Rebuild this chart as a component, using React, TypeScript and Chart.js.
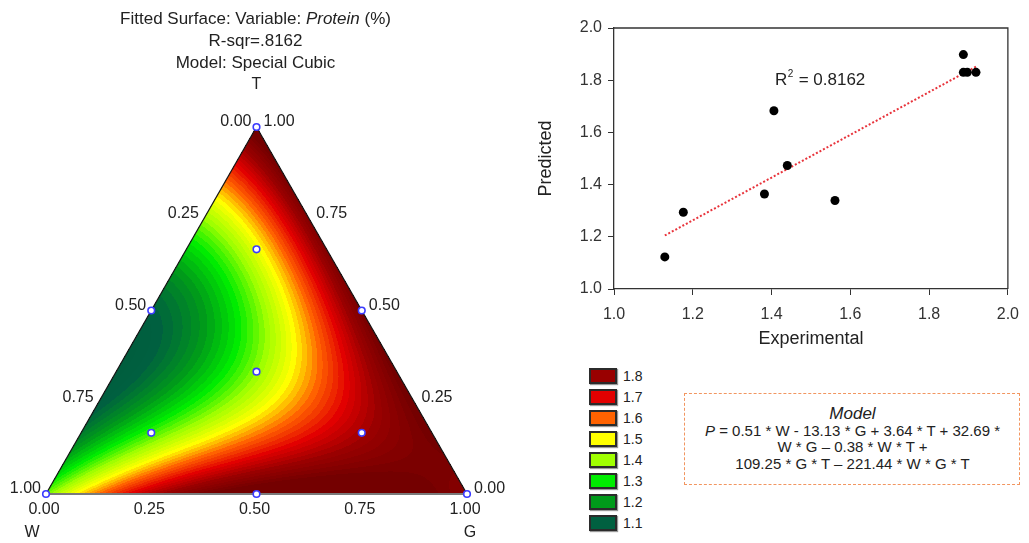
import React, { useEffect, useRef } from "react";
import { Chart, registerables } from "chart.js";

Chart.register(...registerables);

const FONT = "'Liberation Sans', Arial, Helvetica, sans-serif";
const SQ3H = Math.sqrt(3) / 2;

// ---------- Right plot: Experimental vs Predicted ----------
const experimental = [1.129, 1.176, 1.382, 1.406, 1.44, 1.561, 1.887, 1.887, 1.897, 1.919];
const predicted = [1.123, 1.294, 1.364, 1.683, 1.473, 1.339, 1.898, 1.83, 1.83, 1.83];
const trendX = [1.129, 1.919];
const trendY = [1.205, 1.852];
const xTickValues = [1.0, 1.2, 1.4, 1.6, 1.8, 2.0];
const yTickValues = [1.0, 1.2, 1.4, 1.6, 1.8, 2.0];
const r2Value = "0.8162";
const r2LabelAt = [1.409, 1.8];

// ---------- Left plot: ternary fitted surface ----------
const titleLine1 = ["Fitted Surface: Variable: ", "Protein", " (%)"];
const titleLine2 = "R-sqr=.8162";
const titleLine3 = "Model: Special Cubic";
const vertexNames = ["W", "G", "T"];
const ternaryTicks = [0, 0.25, 0.5, 0.75, 1];

// design points (W, G, T)
const designW = [1, 0, 0, 0.5, 0.5, 0, 1 / 3, 2 / 3, 1 / 6, 1 / 6];
const designG = [0, 1, 0, 0.5, 0, 0.5, 1 / 3, 1 / 6, 2 / 3, 1 / 6];
const designT = [0, 0, 1, 0, 0.5, 0.5, 1 / 3, 1 / 6, 1 / 6, 2 / 3];

// surface values (W, G, T -> Protein)
const surfW = [1, 0, 0, 0.95, 0.9, 0.8, 0.65, 0.5, 0.25,
  0.9, 0.834, 0.75, 0.6, 0.5, 0.45, 0.4, 0.3, 0.23, 0.2, 0.15, 0.1, 0.05,
  0, 0, 0,
  0.741, 0.665, 0.568, 0.516, 0.416, 0.354, 0.273, 0.166, 0.028,
  0.585, 0.49, 0.412, 0.331, 0.27, 0.246, 0.205, 0.127, 0.032,
  0.489, 0.408, 0.329, 0.289, 0.242, 0.204, 0.163, 0.123, 0.068,
  0.407, 0.329, 0.248, 0.2, 0.158, 0.122, 0.082, 0.027,
  0.342, 0.247,
  0.282, 0.235, 0.187, 0.164, 0.133, 0.102, 0.062, 0.021,
  0.17, 0.139, 0.098, 0.067, 0.037,
  0.845, 0.805, 0.767, 0.726, 0.686, 0.648, 0.608, 0.529, 0.448, 0.346, 0.204,
  0.924, 0.853, 0.782, 0.639, 0.48,
  0.1, 0.3, 0.1, 0.02];
const surfG = [0, 1, 0, 0.05, 0.1, 0.2, 0.35, 0.5, 0.75,
  0, 0, 0, 0, 0, 0, 0, 0, 0, 0, 0, 0, 0,
  0.75, 0.5, 0.25,
  0.093, 0.169, 0.266, 0.318, 0.418, 0.48, 0.561, 0.668, 0.806,
  0.08, 0.175, 0.253, 0.334, 0.395, 0.419, 0.46, 0.538, 0.633,
  0.092, 0.173, 0.251, 0.291, 0.339, 0.377, 0.417, 0.458, 0.512,
  0.091, 0.17, 0.251, 0.298, 0.341, 0.376, 0.417, 0.471,
  0.107, 0.202,
  0.047, 0.095, 0.142, 0.166, 0.197, 0.228, 0.268, 0.309,
  0.029, 0.06, 0.101, 0.132, 0.162,
  0.054, 0.095, 0.133, 0.173, 0.213, 0.251, 0.292, 0.37, 0.451, 0.553, 0.695,
  0.038, 0.109, 0.18, 0.323, 0.482,
  0.8, 0.6, 0.5, 0.18];
const surfT = [0, 0, 1, 0, 0, 0, 0, 0, 0,
  0.1, 0.166, 0.25, 0.4, 0.5, 0.55, 0.6, 0.7, 0.77, 0.8, 0.85, 0.9, 0.95,
  0.25, 0.5, 0.75,
  0.166, 0.166, 0.166, 0.166, 0.166, 0.166, 0.166, 0.166, 0.166,
  0.335, 0.335, 0.335, 0.335, 0.335, 0.335, 0.335, 0.335, 0.335,
  0.42, 0.42, 0.42, 0.42, 0.42, 0.42, 0.42, 0.42, 0.42,
  0.502, 0.501, 0.501, 0.502, 0.501, 0.502, 0.501, 0.502,
  0.551, 0.551,
  0.671, 0.67, 0.671, 0.67, 0.67, 0.67, 0.67, 0.67,
  0.801, 0.801, 0.801, 0.801, 0.801,
  0.101, 0.1, 0.1, 0.101, 0.101, 0.101, 0.1, 0.101, 0.101, 0.101, 0.101,
  0.038, 0.038, 0.038, 0.038, 0.038,
  0.1, 0.1, 0.4, 0.8];
const surfP = [1.35, 1.87, 1.85, 1.42, 1.5, 1.68, 1.78, 1.84, 1.9,
  1.24, 1.2, 1.12, 1.07, 1.09, 1.14, 1.2, 1.3, 1.42, 1.48, 1.6, 1.72, 1.8,
  1.86, 1.84, 1.84,
  1.2, 1.27, 1.42, 1.52, 1.6, 1.7, 1.75, 1.8, 1.86,
  1.12, 1.18, 1.25, 1.32, 1.42, 1.5, 1.6, 1.72, 1.8,
  1.1, 1.18, 1.28, 1.3, 1.4, 1.5, 1.6, 1.7, 1.78,
  1.15, 1.22, 1.3, 1.4, 1.5, 1.6, 1.7, 1.8,
  1.22, 1.32,
  1.33, 1.4, 1.45, 1.47, 1.58, 1.65, 1.72, 1.8,
  1.6, 1.65, 1.7, 1.75, 1.8,
  1.25, 1.3, 1.4, 1.5, 1.58, 1.62, 1.66, 1.7, 1.73, 1.8, 1.86,
  1.4, 1.55, 1.66, 1.78, 1.84,
  1.88, 1.84, 1.82, 1.82];

// legend
const legendLevels = [1.8, 1.7, 1.6, 1.5, 1.4, 1.3, 1.2, 1.1];
const legendColors = ["#990000", "#e20000", "#ff6200", "#ffff00", "#a0ff00", "#00ec00", "#009a1a", "#006040"];
const paletteStops = [1.0, 1.1, 1.2, 1.3, 1.4, 1.5, 1.6, 1.7, 1.8, 1.9];
const paletteColors = ["#005a3c", "#006040", "#009a1a", "#00ec00", "#a0ff00", "#ffff00", "#ff6200", "#e20000", "#990000", "#740000"];

// model text
const modelTitle = "Model";
const modelLines = ["= 0.51 * W - 13.13 * G + 3.64 * T + 32.69 *", "W * G \u2013 0.38 * W * T +", "109.25 * G * T \u2013 221.44 * W * G * T"];

// ---------- helpers ----------
function features(w: number, g: number, t: number) {
  return [w, g, t, w * g, w * t, g * t, w * g * (w - g), w * t * (w - t), g * t * (g - t), w * g * t];
}

function fitSurface(): number[] {
  const n = 10;
  const A: number[][] = Array.from({ length: n }, () => new Array(n + 1).fill(0));
  for (let k = 0; k < surfP.length; k++) {
    const f = features(surfW[k], surfG[k], surfT[k]);
    for (let i = 0; i < n; i++) {
      for (let j = 0; j < n; j++) A[i][j] += f[i] * f[j];
      A[i][n] += f[i] * surfP[k];
    }
  }
  for (let i = 0; i < n; i++) A[i][i] += 1e-9;
  for (let c = 0; c < n; c++) {
    let piv = c;
    for (let r = c + 1; r < n; r++) if (Math.abs(A[r][c]) > Math.abs(A[piv][c])) piv = r;
    const tmp = A[c]; A[c] = A[piv]; A[piv] = tmp;
    for (let r = 0; r < n; r++) {
      if (r === c) continue;
      const f = A[r][c] / A[c][c];
      for (let k = c; k <= n; k++) A[r][k] -= f * A[c][k];
    }
  }
  return A.map((row, i) => row[n] / row[i]);
}

function hexToRgb(h: string) {
  const v = parseInt(h.slice(1), 16);
  return [(v >> 16) & 255, (v >> 8) & 255, v & 255];
}
const paletteRgb = paletteColors.map(hexToRgb);

function colorFor(v: number) {
  let q = Math.round(v / 0.02) * 0.02;
  q = Math.max(paletteStops[0], Math.min(paletteStops[paletteStops.length - 1], q));
  let i = 0;
  while (i < paletteStops.length - 2 && q > paletteStops[i + 1]) i++;
  const f = (q - paletteStops[i]) / (paletteStops[i + 1] - paletteStops[i]);
  const a = paletteRgb[i], b = paletteRgb[i + 1];
  return [a[0] + (b[0] - a[0]) * f, a[1] + (b[1] - a[1]) * f, a[2] + (b[2] - a[2]) * f];
}

const toXY = (g: number, t: number) => ({ x: g + t / 2, y: t * SQ3H });

// ---------- ternary plugin ----------
function makeTernaryPlugin(coef: number[]) {
  const pix = (chart: any, w: number, g: number, t: number) => {
    const p = toXY(g, t);
    return { x: chart.scales.x.getPixelForValue(p.x), y: chart.scales.y.getPixelForValue(p.y) };
  };
  return {
    id: "ternary",
    beforeDatasetsDraw(chart: any) {
      const { ctx, chartArea } = chart;
      const xs = chart.scales.x, ys = chart.scales.y;
      const x0 = Math.floor(chartArea.left) - 1, y0 = Math.floor(chartArea.top) - 1;
      const W = Math.ceil(chartArea.right) - x0 + 2, H = Math.ceil(chartArea.bottom) - y0 + 2;
      const off = document.createElement("canvas");
      off.width = W; off.height = H;
      const octx = off.getContext("2d")!;
      const img = octx.createImageData(W, H);
      const eps = 0.001;
      for (let py = 0; py < H; py++) {
        const Y = ys.getValueForPixel(y0 + py + 0.5);
        const t = Y / SQ3H;
        for (let px = 0; px < W; px++) {
          const X = xs.getValueForPixel(x0 + px + 0.5);
          const g = X - t / 2;
          const w = 1 - g - t;
          if (w < -eps || g < -eps || t < -eps) continue;
          const f = features(Math.max(w, 0), Math.max(g, 0), Math.max(t, 0));
          let v = 0;
          for (let k = 0; k < 10; k++) v += coef[k] * f[k];
          const c = colorFor(v);
          const idx = (py * W + px) * 4;
          img.data[idx] = c[0]; img.data[idx + 1] = c[1]; img.data[idx + 2] = c[2]; img.data[idx + 3] = 255;
        }
      }
      octx.putImageData(img, 0, 0);
      ctx.save();
      ctx.drawImage(off, x0, y0);
      const pw = pix(chart, 1, 0, 0), pg = pix(chart, 0, 1, 0), pt = pix(chart, 0, 0, 1);
      ctx.strokeStyle = "#1a1a1a";
      ctx.lineWidth = 1.3;
      ctx.beginPath();
      ctx.moveTo(pw.x, pw.y); ctx.lineTo(pt.x, pt.y); ctx.lineTo(pg.x, pg.y);
      ctx.stroke();
      ctx.strokeStyle = "#7a7a7a";
      ctx.lineWidth = 2;
      ctx.beginPath();
      ctx.moveTo(pw.x, pw.y); ctx.lineTo(pg.x, pg.y);
      ctx.stroke();
      ctx.restore();
    },
    afterDraw(chart: any) {
      const { ctx } = chart;
      ctx.save();
      ctx.fillStyle = "#222";
      ctx.textBaseline = "middle";
      ctx.font = `16px ${FONT}`;
      for (const v of ternaryTicks) {
        const lab = v.toFixed(2);
        const b = pix(chart, 1 - v, v, 0);
        ctx.textAlign = "center";
        ctx.fillText(lab, b.x - 2, b.y + 16);
        const l = pix(chart, v, 0, 1 - v);
        ctx.textAlign = "right";
        ctx.fillText(lab, l.x - 5, l.y - 5);
        const r = pix(chart, 0, 1 - v, v);
        ctx.textAlign = "left";
        ctx.fillText(lab, r.x + 7, r.y - 5);
      }
      const pw = pix(chart, 1, 0, 0), pg = pix(chart, 0, 1, 0), pt = pix(chart, 0, 0, 1);
      ctx.textAlign = "center";
      ctx.fillText(vertexNames[0], pw.x - 14, pw.y + 39);
      ctx.fillText(vertexNames[1], pg.x + 3, pg.y + 39);
      ctx.fillText(vertexNames[2], pt.x, pt.y - 42);
      // title
      const cx = pt.x - 1;
      const fontFor = (i: number) => (i === 1 ? `italic 17px ${FONT}` : `17px ${FONT}`);
      let total = 0;
      titleLine1.forEach((s, i) => { ctx.font = fontFor(i); total += ctx.measureText(s).width; });
      let x = cx - total / 2;
      ctx.textAlign = "left";
      titleLine1.forEach((s, i) => { ctx.font = fontFor(i); ctx.fillText(s, x, 19); x += ctx.measureText(s).width; });
      ctx.font = `17px ${FONT}`;
      ctx.textAlign = "center";
      ctx.fillText(titleLine2, cx, 41);
      ctx.fillText(titleLine3, cx, 63);
      ctx.restore();
    },
  };
}

const scatterDecor = {
  id: "scatterDecor",
  afterDraw(chart: any) {
    const { ctx, chartArea } = chart;
    const { left, top, right, bottom } = chartArea;
    ctx.save();
    ctx.strokeStyle = "#333";
    ctx.lineWidth = 1.3;
    ctx.beginPath();
    ctx.moveTo(left, top); ctx.lineTo(right, top); ctx.lineTo(right, bottom);
    ctx.stroke();
    const xs = chart.scales.x, ys = chart.scales.y;
    let x = xs.getPixelForValue(r2LabelAt[0]);
    const y = ys.getPixelForValue(r2LabelAt[1]);
    ctx.fillStyle = "#222";
    ctx.textBaseline = "middle";
    ctx.textAlign = "left";
    ctx.font = `17px ${FONT}`;
    ctx.fillText("R", x, y);
    x += ctx.measureText("R").width;
    ctx.font = `10px ${FONT}`;
    ctx.fillText("2", x + 0.5, y - 6);
    x += ctx.measureText("2").width + 1;
    ctx.font = `17px ${FONT}`;
    ctx.fillText(" = " + r2Value, x, y);
    ctx.restore();
  },
};

export default function App() {
  const leftRef = useRef<HTMLCanvasElement>(null);
  const rightRef = useRef<HTMLCanvasElement>(null);

  useEffect(() => {
    const coef = fitSurface();
    const left = new Chart(leftRef.current!, {
      type: "scatter",
      data: {
        datasets: [
          {
            data: designW.map((_, i) => toXY(designG[i], designT[i])),
            pointRadius: 3.3,
            pointBorderColor: "#3b3bff",
            pointBackgroundColor: "#ffffff",
            pointBorderWidth: 1.6,
            clip: false as any,
          },
        ],
      },
      options: {
        responsive: false,
        maintainAspectRatio: false,
        animation: false,
        events: [],
        layout: { padding: { left: 46, right: 53, top: 127, bottom: 49 } },
        scales: {
          x: { type: "linear", display: false, min: 0, max: 1 },
          y: { type: "linear", display: false, min: 0, max: SQ3H },
        },
        plugins: { legend: { display: false }, tooltip: { enabled: false }, title: { display: false } },
      },
      plugins: [makeTernaryPlugin(coef)],
    });

    const tickFont = { family: FONT, size: 16 };
    const right = new Chart(rightRef.current!, {
      type: "scatter",
      data: {
        datasets: [
          {
            data: experimental.map((v, i) => ({ x: v, y: predicted[i] })),
            pointRadius: 4.5,
            pointBackgroundColor: "#000",
            pointBorderColor: "#000",
            pointBorderWidth: 0,
            order: 0,
          },
          {
            type: "line" as any,
            data: trendX.map((v, i) => ({ x: v, y: trendY[i] })),
            borderColor: "#e8343c",
            borderWidth: 2,
            borderDash: [2, 2],
            pointRadius: 0,
            showLine: true,
            fill: false,
            order: 1,
          },
        ],
      },
      options: {
        responsive: false,
        maintainAspectRatio: false,
        animation: false,
        events: [],
        layout: { padding: { left: 0, right: 17, top: 28, bottom: 0 } },
        scales: {
          x: {
            type: "linear",
            min: 1,
            max: 2,
            afterBuildTicks: (s: any) => { s.ticks = xTickValues.map((v) => ({ value: v })); },
            afterFit: (s: any) => { s.height = 71; },
            ticks: { font: tickFont, color: "#333", padding: 10, callback: (v: any) => Number(v).toFixed(1), maxRotation: 0 },
            grid: { drawOnChartArea: false, drawTicks: true, tickLength: 6, color: "#333" },
            border: { display: true, color: "#333", width: 1.3 },
            title: { display: true, text: "Experimental", font: { family: FONT, size: 18 }, color: "#222", padding: { top: 0, bottom: 10 } },
          },
          y: {
            type: "linear",
            min: 1,
            max: 2,
            afterBuildTicks: (s: any) => { s.ticks = yTickValues.map((v) => ({ value: v })); },
            afterFit: (s: any) => { s.width = 84; },
            ticks: { font: tickFont, color: "#333", padding: 6, callback: (v: any) => Number(v).toFixed(1) },
            grid: { drawOnChartArea: false, drawTicks: true, tickLength: 6, color: "#333" },
            border: { display: true, color: "#333", width: 1.3 },
            title: { display: true, text: "Predicted", font: { family: FONT, size: 18 }, color: "#222", padding: { top: 5, bottom: 0 } },
          },
        },
        plugins: { legend: { display: false }, tooltip: { enabled: false } },
      },
      plugins: [scatterDecor],
    });

    return () => {
      left.destroy();
      right.destroy();
    };
  }, []);

  const legendTop = 376;
  const legendStep = 21;

  return (
    <div style={{ position: "absolute", left: 0, top: 0, width: 1029, height: 543, background: "#fff", fontFamily: FONT, color: "#222", overflow: "hidden" }}>
      <canvas ref={leftRef} width={520} height={543} style={{ position: "absolute", left: 0, top: 0, width: 520, height: 543 }} />
      <canvas ref={rightRef} width={499} height={360} style={{ position: "absolute", left: 530, top: 0, width: 499, height: 360 }} />
      {legendLevels.map((lv, i) => (
        <React.Fragment key={lv}>
          <div
            style={{
              position: "absolute",
              left: 589,
              top: legendTop + i * legendStep - 8,
              width: 24,
              height: 12,
              background: legendColors[i],
              border: "2px solid #2b2b2b",
              boxShadow: "1px 1px 1px #999",
            }}
          />
          <div style={{ position: "absolute", left: 623, top: legendTop + i * legendStep - 9, fontSize: 14, lineHeight: "18px" }}>
            {lv.toFixed(1)}
          </div>
        </React.Fragment>
      ))}
      <div style={{ position: "absolute", left: 684, top: 393, width: 334, height: 90, border: "1.5px dashed #f29660" }} />
      <div style={{ position: "absolute", left: 684, width: 337, top: 404, textAlign: "center", fontSize: 17, lineHeight: "20px", fontStyle: "italic" }}>
        {modelTitle}
      </div>
      <div style={{ position: "absolute", left: 684, width: 337, top: 422, textAlign: "center", fontSize: 15, lineHeight: "18px" }}>
        <i>P</i> {modelLines[0]}
      </div>
      <div style={{ position: "absolute", left: 684, width: 337, top: 438, textAlign: "center", fontSize: 15, lineHeight: "18px" }}>
        {modelLines[1]}
      </div>
      <div style={{ position: "absolute", left: 684, width: 337, top: 455, textAlign: "center", fontSize: 15, lineHeight: "18px" }}>
        {modelLines[2]}
      </div>
    </div>
  );
}
